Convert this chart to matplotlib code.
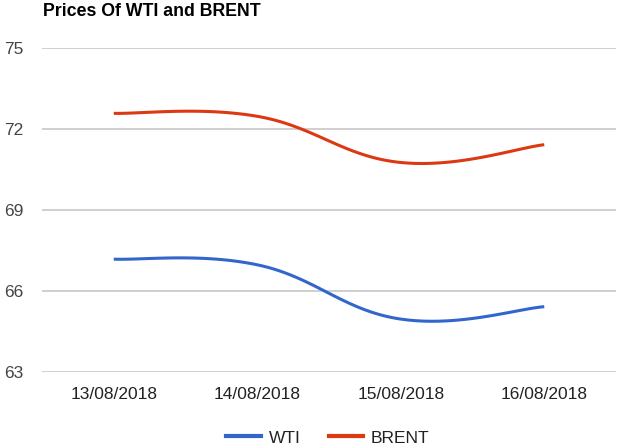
import numpy as np
import matplotlib
matplotlib.use("Agg")
import matplotlib.pyplot as plt
from matplotlib.lines import Line2D

dates = ["13/08/2018", "14/08/2018", "15/08/2018", "16/08/2018"]
wti = [67.18, 66.97, 64.96, 65.42]
brent = [72.58, 72.47, 70.76, 71.42]
yticks = [63, 66, 69, 72, 75]

plt.rcParams['font.family'] = ['Liberation Sans', 'DejaVu Sans']


def smooth(xs, ys, n=40, k=0.4):
    # Bezier smoothing similar to Google Charts 'function' curve
    xs = np.asarray(xs, float)
    ys = np.asarray(ys, float)
    px, py = [], []
    m = len(xs)
    for i in range(m - 1):
        x0, y0 = xs[i], ys[i]
        x1, y1 = xs[i + 1], ys[i + 1]
        xp, yp = (xs[i - 1], ys[i - 1]) if i > 0 else (x0, y0)
        xn, yn = (xs[i + 2], ys[i + 2]) if i + 2 < m else (x1, y1)
        c1x = x0 + (x1 - xp) * k / 2
        c1y = y0 + (y1 - yp) * k / 2
        c2x = x1 - (xn - x0) * k / 2
        c2y = y1 - (yn - y0) * k / 2
        t = np.linspace(0, 1, n)
        bx = (1 - t) ** 3 * x0 + 3 * (1 - t) ** 2 * t * c1x + 3 * (1 - t) * t ** 2 * c2x + t ** 3 * x1
        by = (1 - t) ** 3 * y0 + 3 * (1 - t) ** 2 * t * c1y + 3 * (1 - t) * t ** 2 * c2y + t ** 3 * y1
        px.extend(bx)
        py.extend(by)
    return np.array(px), np.array(py)


fig = plt.figure(figsize=(6.2, 4.48), dpi=100)
ax = fig.add_axes([42 / 620, 1 - 372 / 448, (616 - 42) / 620, (372 - 48) / 448])

x = np.arange(len(dates))
for vals, col in [(wti, '#3366CC'), (brent, '#DC3912')]:
    sx, sy = smooth(x, vals)
    ax.plot(sx, sy, color=col, lw=2.2, solid_capstyle='butt', zorder=3)

ax.set_xlim(-0.5, len(dates) - 0.5)
ax.set_ylim(63, 75)
ax.set_yticks(yticks)
ax.set_yticklabels([str(v) for v in yticks])
ax.set_xticks(x)
ax.set_xticklabels(dates)
ax.grid(axis='y', color='#CCCCCC', lw=1.3)
ax.set_axisbelow(True)
for s in ax.spines.values():
    s.set_visible(False)
ax.tick_params(axis='y', length=0, pad=13.5, labelsize=12.5, labelcolor='#444444')
ax.tick_params(axis='x', length=0, pad=11, labelsize=12.5, labelcolor='#222222')
for lbl in ax.get_yticklabels():
    lbl.set_horizontalalignment('right')

fig.text(43 / 620, 1 - 12 / 448, "Prices Of WTI and BRENT", fontsize=12.8,
         fontweight='bold', va='center', ha='left', color='#000000')

handles = [Line2D([], [], color='#3366CC', lw=3), Line2D([], [], color='#DC3912', lw=3)]
fig.legend(handles, ["WTI", "BRENT"], loc='center', bbox_to_anchor=(328 / 620, 1 - 438 / 448),
           ncol=2, frameon=False, fontsize=12.5, handlelength=2.0, handletextpad=0.45,
           columnspacing=1.6, labelcolor='#222222', borderpad=0)

fig.savefig("out.png", dpi=100)
